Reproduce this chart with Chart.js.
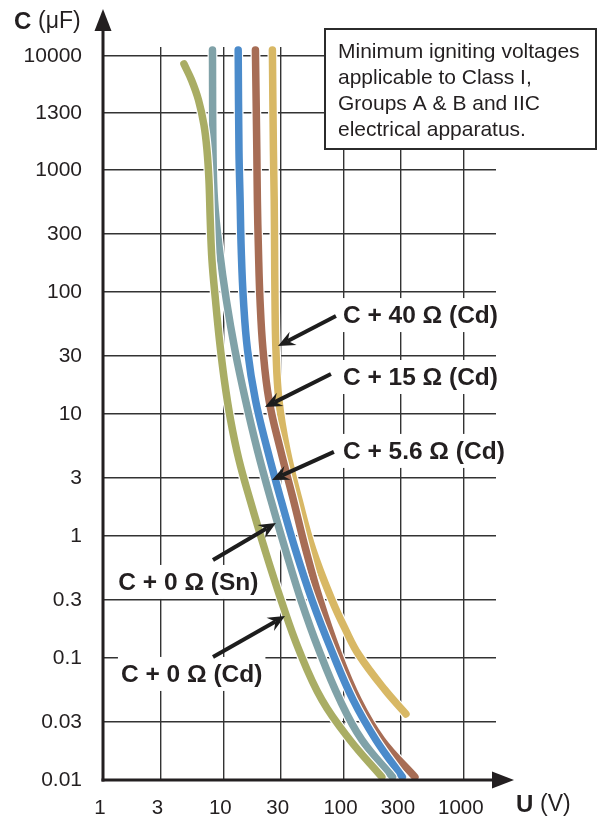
<!DOCTYPE html>
<html>
<head>
<meta charset="utf-8">
<script src="https://cdn.jsdelivr.net/npm/chart.js@4.4.1/dist/chart.umd.min.js"></script>
<style>
html,body{margin:0;padding:0;background:#ffffff;}
#wrap{width:598px;height:821px;position:relative;}
</style>
</head>
<body>
<div id="wrap"><canvas id="c" width="598" height="821"></canvas></div>
<script>
// ---------- data (U in volts, C in microfarads) ----------
const seriesNames = ['C + 0 Ω (Cd)', 'C + 0 Ω (Sn)', 'C + 5.6 Ω (Cd)', 'C + 15 Ω (Cd)', 'C + 40 Ω (Cd)'];

const u_0Cd = [4.71, 5.44, 6.22, 6.91, 7.32, 7.60, 7.79, 8.05, 8.61, 9.29, 10.2, 11.5, 13.5, 16.7, 22.2, 30.2, 42.6, 66.1, 113, 208];
const c_0Cd = [7525, 4242, 2073, 1230, 1096, 828, 389, 183, 86.0, 40.4, 19.0, 8.93, 4.20, 1.97, 0.768, 0.299, 0.116, 0.0453, 0.0213, 0.0106];

const u_0Sn = [8.13, 8.21, 8.45, 9.29, 10.6, 12.5, 15.3, 19.2, 24.9, 32.9, 44.2, 62.4, 93.2, 142, 255];
const c_0Sn = [12400, 1096, 568, 221, 86.0, 33.5, 13.0, 5.07, 1.97, 0.768, 0.299, 0.116, 0.0453, 0.0213, 0.0106];

const u_56Cd = [13.3, 13.5, 13.8, 14.1, 14.7, 15.9, 18.5, 23.3, 30.2, 39.8, 54.6, 79.2, 120, 186, 308];
const c_56Cd = [12400, 1096, 568, 221, 86.0, 33.5, 13.0, 5.07, 1.97, 0.768, 0.299, 0.116, 0.0453, 0.0213, 0.0106];

const u_15Cd = [18.5, 19.0, 19.2, 19.6, 20.2, 21.4, 24.0, 29.9, 38.3, 48.6, 63.6, 88.1, 132, 208, 392];
const c_15Cd = [12400, 1096, 568, 221, 86.0, 33.5, 13.0, 5.07, 1.97, 0.768, 0.299, 0.116, 0.0453, 0.0213, 0.0106];

const u_40Cd = [25.6, 26.1, 26.5, 26.7, 26.9, 27.4, 29.0, 33.8, 42.6, 55.6, 80.0, 104, 134, 221, 330];
const c_40Cd = [12400, 1096, 568, 221, 86.0, 33.5, 13.0, 5.07, 1.97, 0.768, 0.299, 0.170, 0.106, 0.0547, 0.0348];

const xTickValues = [1, 3, 10, 30, 100, 300, 1000];
const yTickValues = [10000, 1300, 1000, 300, 100, 30, 10, 3, 1, 0.3, 0.1, 0.03, 0.01];
const yTickLabels = ['10000', '1300', '1000', '300', '100', '30', '10', '3', '1', '0.3', '0.1', '0.03', '0.01'];

const noteLines = ['Minimum igniting voltages', 'applicable to Class I,', 'Groups A & B and IIC', 'electrical apparatus.'];

// callouts: label text, arrow tip / tail and label anchor, all in (U, C) units
const callouts = [
  {text: 'C + 40 Ω (Cd)',  tip: [28.5, 36],   tail: [86.4, 63.5], at: [98.7, 64.7], align: 'left'},
  {text: 'C + 15 Ω (Cd)',  tip: [22.2, 11.4], tail: [78.5, 21.3], at: [98.7, 20.1], align: 'left'},
  {text: 'C + 5.6 Ω (Cd)', tip: [25.4, 2.88], tail: [83.1, 4.89], at: [98.7, 4.98], align: 'left'},
  {text: 'C + 0 Ω (Sn)',   tip: [27.4, 1.28], tail: [8.21, 0.635], at: [5.13, 0.42], align: 'center'},
  {text: 'C + 0 Ω (Cd)',   tip: [32.6, 0.221], tail: [8.21, 0.102], at: [5.46, 0.074], align: 'center'}
];

// ---------- styling ----------
const FONT = '"Liberation Sans", Arial, Helvetica, sans-serif';
const INK = '#231f20';
const COLORS = ['#a9ad64', '#80a2a8', '#4b8bcb', '#a76d55', '#d8b865'];

// capacitance axis: log below 1000 uF, compressed above
const SEG = 0.467;
function pos(c) {
  const l = Math.log10(c);
  if (c <= 1000) return l;
  if (c <= 1300) return 3 + SEG * (l - 3) / Math.log10(1.3);
  return 3 + SEG + SEG * (l - Math.log10(1300)) / Math.log10(10000 / 1300);
}

function toPoints(us, cs) { return us.map((u, i) => ({x: u, y: pos(cs[i])})); }
const seriesU = [u_0Cd, u_0Sn, u_56Cd, u_15Cd, u_40Cd];
const seriesC = [c_0Cd, c_0Sn, c_56Cd, c_15Cd, c_40Cd];

const datasets = seriesNames.map((name, i) => ({
  label: name,
  data: toPoints(seriesU[i], seriesC[i]),
  borderColor: COLORS[i],
  borderWidth: 7.5,
  borderCapStyle: 'round',
  borderJoinStyle: 'round',
  tension: 0.4,
  pointRadius: 0,
  fill: false,
  clip: false
}));

function arrow(ctx, x1, y1, x2, y2) {
  const a = Math.atan2(y2 - y1, x2 - x1);
  const dx = Math.cos(a), dy = Math.sin(a), px = -dy, py = dx;
  const L = 17, W = 7.5, N = 11;
  ctx.save();
  ctx.strokeStyle = '#1d1d1d';
  ctx.fillStyle = '#1d1d1d';
  ctx.lineWidth = 4;
  ctx.lineCap = 'butt';
  ctx.beginPath();
  ctx.moveTo(x1, y1);
  ctx.lineTo(x2 - N * dx, y2 - N * dy);
  ctx.stroke();
  ctx.beginPath();
  ctx.moveTo(x2, y2);
  ctx.lineTo(x2 - L * dx + W * px, y2 - L * dy + W * py);
  ctx.lineTo(x2 - N * dx, y2 - N * dy);
  ctx.lineTo(x2 - L * dx - W * px, y2 - L * dy - W * py);
  ctx.closePath();
  ctx.fill();
  ctx.restore();
}

const decor = {
  id: 'decor',
  beforeDatasetDraw(chart, args) {
    const el = args.meta.dataset;
    if (!el) return;
    const saved = el.options;
    el.options = Object.assign({}, saved, {borderColor: '#ffffff', borderWidth: saved.borderWidth + 2.4});
    chart.ctx.save();
    el.draw(chart.ctx, chart.chartArea);
    chart.ctx.restore();
    el.options = saved;
  },
  afterDraw(chart) {
    const ctx = chart.ctx;
    const xs = chart.scales.x, ys = chart.scales.y;
    const ca = chart.chartArea;
    const X = u => xs.getPixelForValue(u);
    const Y = c => ys.getPixelForValue(pos(c));

    // axes with arrow heads
    ctx.save();
    ctx.strokeStyle = INK; ctx.fillStyle = INK; ctx.lineWidth = 3;
    ctx.beginPath();
    ctx.moveTo(ca.left, ca.bottom + 1.5);
    ctx.lineTo(ca.left, 28);
    ctx.stroke();
    ctx.beginPath();
    ctx.moveTo(ca.left, 9); ctx.lineTo(ca.left - 8.5, 31); ctx.lineTo(ca.left + 8.5, 31); ctx.closePath(); ctx.fill();
    ctx.beginPath();
    ctx.moveTo(ca.left - 1.5, ca.bottom);
    ctx.lineTo(ca.right, ca.bottom);
    ctx.stroke();
    ctx.beginPath();
    ctx.moveTo(514, ca.bottom); ctx.lineTo(492, ca.bottom - 8.5); ctx.lineTo(492, ca.bottom + 8.5); ctx.closePath(); ctx.fill();
    ctx.restore();

    // axis titles
    ctx.save();
    ctx.fillStyle = INK;
    ctx.textBaseline = 'middle';
    ctx.textAlign = 'left';
    ctx.font = 'bold 24px ' + FONT;
    ctx.fillText('C', 14, 22);
    let w = ctx.measureText('C ').width;
    ctx.font = '23px ' + FONT;
    ctx.fillText('(μF)', 14 + w, 22);
    ctx.font = 'bold 24px ' + FONT;
    ctx.fillText('U', 516, 805);
    w = ctx.measureText('U ').width;
    ctx.font = '23px ' + FONT;
    ctx.fillText('(V)', 516 + w, 805);
    ctx.restore();

    // callouts
    ctx.save();
    ctx.font = 'bold 24.5px ' + FONT;
    ctx.textBaseline = 'middle';
    callouts.forEach(co => {
      const tw = ctx.measureText(co.text).width;
      const ax = X(co.at[0]), ay = Y(co.at[1]);
      const left = co.align === 'left' ? ax : ax - tw / 2;
      ctx.fillStyle = '#ffffff';
      ctx.fillRect(left - 3, ay - 17, tw + 6, 34);
      ctx.fillStyle = INK;
      ctx.textAlign = 'left';
      ctx.fillText(co.text, left, ay + 1);
      arrow(ctx, X(co.tail[0]), Y(co.tail[1]), X(co.tip[0]), Y(co.tip[1]));
    });
    ctx.restore();

    // note box
    ctx.save();
    const bx = 325, by = 29, bw = 271, bh = 120;
    ctx.fillStyle = '#ffffff';
    ctx.fillRect(bx, by, bw, bh);
    ctx.strokeStyle = '#2b2b2b';
    ctx.lineWidth = 2;
    ctx.strokeRect(bx, by, bw, bh);
    ctx.fillStyle = INK;
    ctx.font = '21px ' + FONT;
    ctx.textBaseline = 'middle';
    ctx.textAlign = 'left';
    noteLines.forEach((t, i) => ctx.fillText(t, 338, 52 + i * 26));
    ctx.restore();
  }
};

new Chart(document.getElementById('c'), {
  type: 'line',
  data: {datasets},
  options: {
    responsive: false,
    animation: false,
    devicePixelRatio: 1,
    layout: {padding: {top: 47, right: 102, bottom: 0, left: 0}},
    plugins: {legend: {display: false}, tooltip: {enabled: false}},
    scales: {
      x: {
        type: 'logarithmic',
        position: 'bottom',
        min: 1,
        max: 1850,
        afterBuildTicks: s => { s.ticks = xTickValues.map(v => ({value: v})); },
        afterFit: s => { s.height = 41; },
        grid: {color: '#333333', lineWidth: 1.4, drawTicks: false},
        border: {display: false},
        ticks: {
          color: INK,
          font: {family: FONT, size: 20.5},
          padding: 16,
          labelOffset: -3,
          maxRotation: 0,
          autoSkip: false,
          callback: v => String(v)
        }
      },
      y: {
        type: 'linear',
        min: -2,
        max: 4.008,
        afterBuildTicks: s => { s.ticks = yTickValues.map(v => ({value: pos(v)})); },
        afterFit: s => { s.width = 103; },
        grid: {color: '#333333', lineWidth: 1.4, drawTicks: false},
        border: {display: false},
        ticks: {
          color: INK,
          font: {family: FONT, size: 21},
          padding: 21,
          autoSkip: false,
          callback: (v, i) => yTickLabels[i]
        }
      }
    }
  },
  plugins: [decor]
});
</script>
</body>
</html>
